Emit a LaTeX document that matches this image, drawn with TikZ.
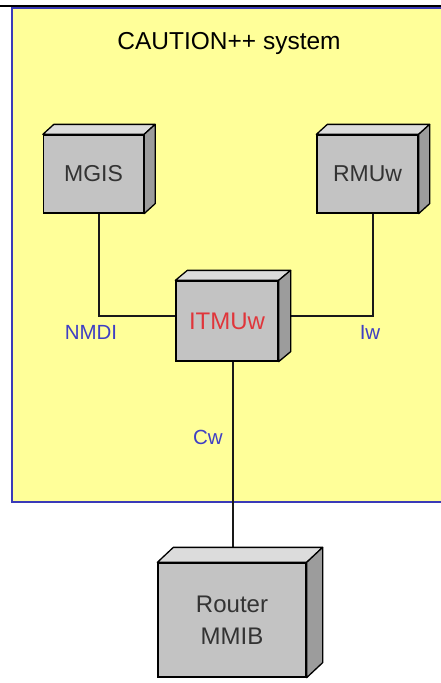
\documentclass[tikz,border=0pt]{standalone}
\usepackage{fontspec}
\setmainfont{Liberation Sans}
\usetikzlibrary{positioning, calc}

\definecolor{sysyellow}{HTML}{FFFF99}
\definecolor{sysblue}{HTML}{3A3AB8}
\definecolor{ifblue}{HTML}{3F3FC4}
\definecolor{boxgray}{HTML}{C3C3C3}
\definecolor{topgray}{HTML}{DCDCDC}
\definecolor{sidegray}{HTML}{9C9C9C}
\definecolor{itmured}{HTML}{E0353A}

\begin{document}
\begin{tikzpicture}[
  x=1pt, y=-1pt,
  box/.style       = {draw=black, line width=1.3pt, fill=boxgray, inner sep=0pt,
                      align=center, font=\fontsize{23}{32}\selectfont, text=black!80},
  top face/.style  = {draw=black, line width=1.3pt, fill=topgray, line join=round},
  side face/.style = {draw=black, line width=1.3pt, fill=sidegray, line join=round},
  link/.style      = {draw=black!90, line width=2pt},
  if label/.style  = {font=\fontsize{20.5}{24}\selectfont, text=ifblue},
]
\useasboundingbox (0,0) rectangle (441,683);

% =============================================================
% System frame
% =============================================================
\fill[sysyellow] (12,8) rectangle (450,502);
\draw[sysblue, line width=1.6pt] (450,8) -- (12,8) -- (12,502) -- (450,502);
\draw[black, line width=2.4pt] (0,6) -- (450,6);
\node (title) at (229,43) {\fontsize{24.5}{28}\selectfont CAUTION++ system};

% =============================================================
% Connectors (drawn first, boxes go on top)
% =============================================================
\coordinate (mgisfoot) at (98.5,213);
\coordinate (rmuwfoot) at (373,213);
\coordinate (itmuleft) at (176,316);
\coordinate (itmuright) at (290,316);
\coordinate (itmufoot) at (233,361);
\coordinate (routertop) at (233,556);
\draw[link] (mgisfoot) |- (itmuleft);
\draw[link] (rmuwfoot) |- (itmuright);
\draw[link] (itmufoot) -- (routertop);

% =============================================================
% Boxes (front faces), then top and side faces
% =============================================================
\node[box, minimum width=100pt, minimum height=78pt]  (mgis)   at (93.5,174)  {MGIS};
\node[box, minimum width=101pt, minimum height=78pt]  (rmuw)   at (367.5,174) {RMUw};
\node[box, minimum width=102pt, minimum height=80pt, text=itmured,
      font=\fontsize{24}{28}\selectfont]              (itmu)   at (227,321)   {ITMUw};
\node[box, minimum width=148pt, minimum height=114pt,
      font=\fontsize{24}{32}\selectfont]              (router) at (232,620)   {Router\\MMIB};

\foreach \b/\dx/\dy in {mgis/11/10, rmuw/11/10, itmu/12/10, router/16/15} {
  \filldraw[top face] (\b.north west) -- ++(\dx,-\dy) -- ($(\b.north east)+(\dx,-\dy)$)
    -- (\b.north east) -- cycle;
  \filldraw[side face] (\b.north east) -- ++(\dx,-\dy) -- ($(\b.south east)+(\dx,-\dy)$)
    -- (\b.south east) -- cycle;
}

% Interface labels
\node[if label] (nmdi) at (91,332)  {NMDI};
\node[if label] (iw)   at (370,332) {Iw};
\node[if label] (cw)   at (208,437) {Cw};

\end{tikzpicture}
\end{document}
